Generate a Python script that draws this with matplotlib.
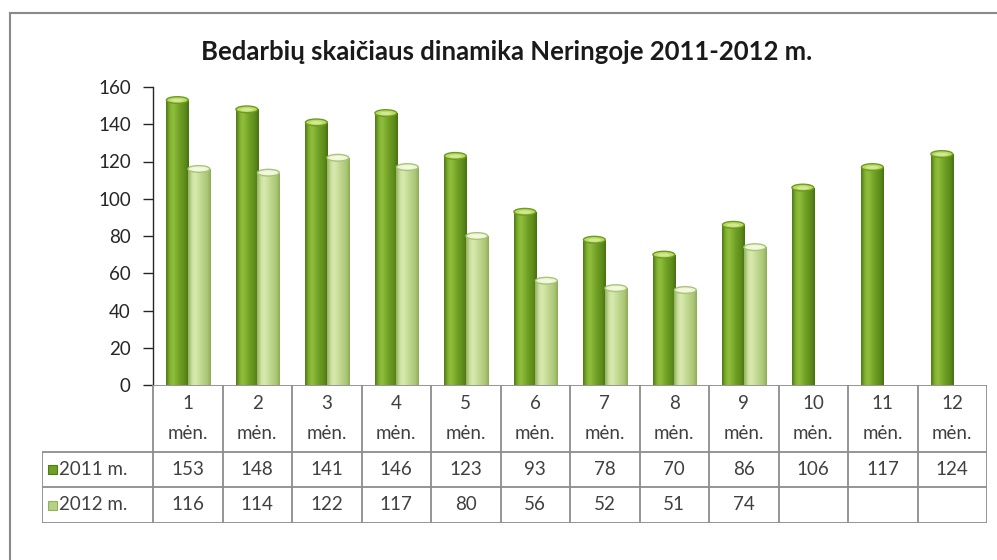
import matplotlib
matplotlib.use("Agg")
import matplotlib.pyplot as plt
import numpy as np
from matplotlib.patches import Ellipse, Rectangle
from matplotlib.colors import LinearSegmentedColormap

# ---- data ----
title = "Bedarbių skaičiaus dinamika Neringoje 2011-2012 m."
categories = ["1\nmėn.", "2\nmėn.", "3\nmėn.", "4\nmėn.", "5\nmėn.", "6\nmėn.",
              "7\nmėn.", "8\nmėn.", "9\nmėn.", "10\nmėn.", "11\nmėn.", "12\nmėn."]
series_names = ["2011 m.", "2012 m."]
values_2011 = [153, 148, 141, 146, 123, 93, 78, 70, 86, 106, 117, 124]
values_2012 = [116, 114, 122, 117, 80, 56, 52, 51, 74, None, None, None]
yticks = [0, 20, 40, 60, 80, 100, 120, 140, 160]

W, H = 997, 560
plt.rcParams['font.family'] = ['Lato', 'DejaVu Sans']
fig = plt.figure(figsize=(W / 100, H / 100), dpi=100)

def fx(px):
    return px / W

def fy(py):
    return 1 - py / H

# outer chart border (left and top edges visible)
fig.add_artist(plt.Line2D([fx(10), fx(10)], [fy(13), 0], color="#8a8a8a", lw=1.5))
fig.add_artist(plt.Line2D([fx(10), 1], [fy(13), fy(13)], color="#8a8a8a", lw=1.5))

# ---- main axes ----
axL, axR, axT, axB = 153, 987, 87, 385
ax = fig.add_axes([fx(axL), fy(axB), fx(axR - axL), (axB - axT) / H])
n = len(categories)
x = np.arange(n)
for s in ["top", "right", "bottom"]:
    ax.spines[s].set_visible(False)
ax.spines["left"].set_color("#262626")
ax.spines["left"].set_linewidth(1.0)
ax.set_xticks([])
ax.set_yticks(yticks)
ax.tick_params(axis="y", direction="out", length=7, width=1.0, color="#262626",
               labelsize=13.5, labelcolor="#262626", pad=9)
ax.patch.set_alpha(0)

bw = 0.32
off = [-0.15, 0.16]

cm11 = LinearSegmentedColormap.from_list("c11", [
    (0.0, "#4f7a16"), (0.18, "#86b534"), (0.32, "#8fbd3c"), (0.6, "#6f9f24"),
    (0.85, "#5c8a1a"), (1.0, "#47700f")])
cm12 = LinearSegmentedColormap.from_list("c12", [
    (0.0, "#93b060"), (0.18, "#cfe3a2"), (0.32, "#d8e9b0"), (0.6, "#bfd78c"),
    (0.85, "#aac676"), (1.0, "#8eab5a")])
cmaps = [cm11, cm12]
top_face = ["#b9dc62", "#eef6d2"]
top_edge = ["#6e9a22", "#a9c47a"]

grad = np.linspace(0, 1, 64).reshape(1, -1)
cap_h = 3.6  # ellipse height in data units

for si, vals in enumerate([values_2011, values_2012]):
    xs = [xi + off[si] for xi, v in zip(x, vals) if v is not None]
    hs = [v for v in vals if v is not None]
    bars = ax.bar(xs, hs, width=bw, color="none", edgecolor="none", zorder=2)
    for b in bars:
        x0, w, h = b.get_x(), b.get_width(), b.get_height()
        im = ax.imshow(grad, cmap=cmaps[si], aspect="auto",
                       extent=[x0, x0 + w, 0, h], zorder=2, interpolation="bicubic")
        im.set_clip_path(b)
        e = Ellipse((x0 + w / 2, h), w * 0.98, cap_h, facecolor=top_face[si],
                    edgecolor=top_edge[si], lw=1.0, zorder=3)
        ax.add_patch(e)
        e2 = Ellipse((x0 + w / 2, h - cap_h * 0.05), w * 0.55, cap_h * 0.45,
                     facecolor="#ffffff", alpha=0.35, edgecolor="none", zorder=4)
        ax.add_patch(e2)
ax.set_xlim(-0.5, n - 0.5)
ax.set_ylim(0, 160)

fig.text(fx(507), fy(52), title, ha="center", va="center", fontsize=18.5,
         fontweight="bold", color="#1a1a1a")

# ---- data table ----
tL, tR, tT, tB = 42, 987, 385, 523
row1, row2 = 452, 487
tax = fig.add_axes([fx(tL), fy(tB), fx(tR - tL), (tB - tT) / H])
colw = (axR - axL) / n
left_units = -0.5 - (axL - tL) / colw
tax.set_xlim(left_units, n - 0.5)
tax.set_ylim(tB, tT)
tax.axis("off")
lc = "#8c8c8c"
lw = 1.3
tax.plot([-0.5, n - 0.5], [tT, tT], color=lc, lw=lw, solid_capstyle="butt")
for yy in [row1, row2, tB]:
    tax.plot([left_units, n - 0.5], [yy, yy], color=lc, lw=lw, solid_capstyle="butt")
for k in range(n + 1):
    tax.plot([k - 0.5, k - 0.5], [tT, tB], color=lc, lw=lw, solid_capstyle="butt")
tax.plot([left_units, left_units], [row1, tB], color=lc, lw=lw, solid_capstyle="butt")

tcol = "#404040"
fs = 13.5
for k, c in enumerate(categories):
    top, bot = c.split("\n")
    tax.text(k, (tT + row1) / 2 - 15, top, ha="center", va="center", fontsize=fs, color=tcol)
    tax.text(k, (tT + row1) / 2 + 15, bot, ha="center", va="center", fontsize=fs, color=tcol)
for ri, (vals, ymid) in enumerate([(values_2011, (row1 + row2) / 2),
                                   (values_2012, (row2 + tB) / 2)]):
    for k, v in enumerate(vals):
        if v is not None:
            tax.text(k, ymid, str(v), ha="center", va="center", fontsize=fs, color=tcol)
    kx = left_units + 6 / colw
    kw = 9 / colw
    tax.add_patch(Rectangle((kx, ymid - 4.5), kw, 9,
                            facecolor=["#6f9f24", "#b7d184"][ri],
                            edgecolor=["#4f7a16", "#93b060"][ri], lw=0.8))
    tax.text(kx + kw + 2 / colw, ymid, series_names[ri], ha="left", va="center",
             fontsize=fs, color=tcol)

fig.savefig("out.png", dpi=100)
